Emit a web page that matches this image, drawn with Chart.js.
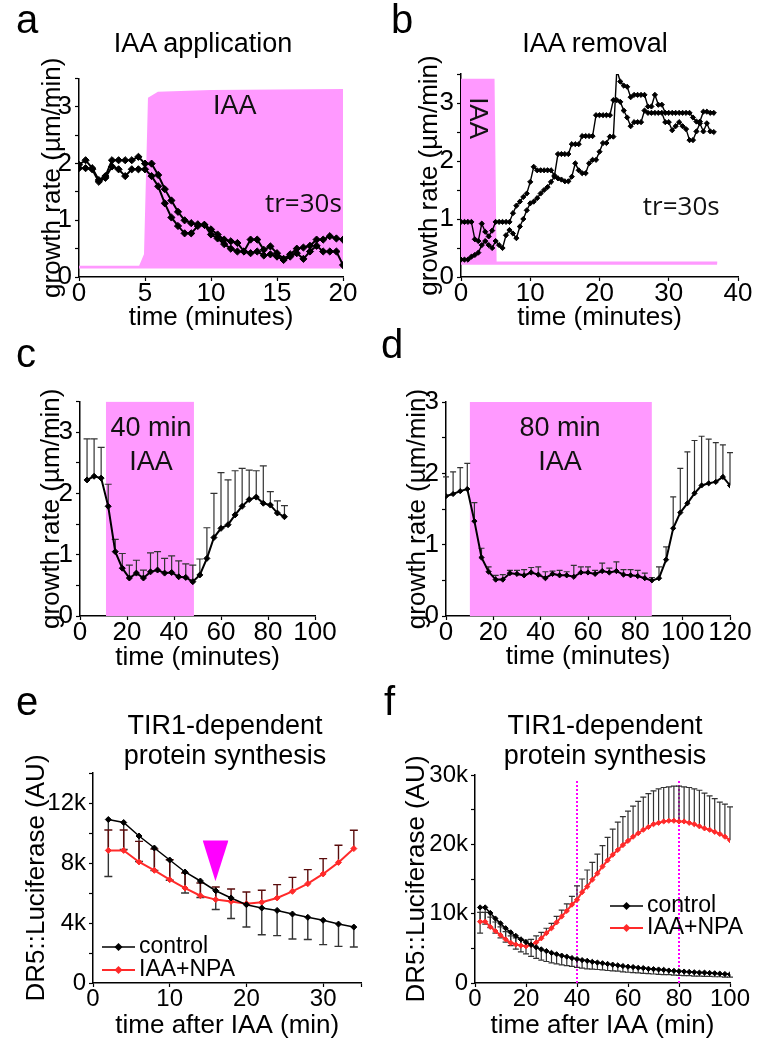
<!DOCTYPE html>
<html>
<head>
<meta charset="utf-8">
<script src="https://cdn.jsdelivr.net/npm/chart.js@4.4.1/dist/chart.umd.min.js"></script>
<style>
  body { margin: 0; background: #fff; }
  #page { position: relative; width: 761px; height: 1050px; overflow: hidden; font-family: "Liberation Sans", Arial, sans-serif; color: #000; }
  canvas { position: absolute; }
  .lbl { position: absolute; font-size: 40px; line-height: 40px; }
  .ttl { position: absolute; width: 300px; font-size: 27px; line-height: 27px; text-align: center; white-space: nowrap; }
</style>
</head>
<body>
<div id="page">
  <canvas id="pa" width="380" height="340" style="left:0;top:0"></canvas>
  <canvas id="pb" width="381" height="340" style="left:380px;top:0"></canvas>
  <canvas id="pc" width="380" height="340" style="left:0;top:340px"></canvas>
  <canvas id="pd" width="381" height="340" style="left:380px;top:340px"></canvas>
  <canvas id="pe" width="380" height="370" style="left:0;top:680px"></canvas>
  <canvas id="pf" width="381" height="370" style="left:380px;top:680px"></canvas>

  <div class="lbl" style="left:16px;top:-1px">a</div>
  <div class="lbl" style="left:391px;top:-1px">b</div>
  <div class="lbl" style="left:16px;top:333px">c</div>
  <div class="lbl" style="left:381px;top:324px">d</div>
  <div class="lbl" style="left:16px;top:681px">e</div>
  <div class="lbl" style="left:384px;top:681px">f</div>

  <div class="ttl" style="left:53px;top:30px">IAA application</div>
  <div class="ttl" style="left:445px;top:30px">IAA removal</div>
  <div class="ttl" style="left:75px;top:712px">TIR1-dependent</div>
  <div class="ttl" style="left:75px;top:742px">protein synthesis</div>
  <div class="ttl" style="left:455px;top:712px">TIR1-dependent</div>
  <div class="ttl" style="left:455px;top:742px">protein synthesis</div>
</div>
<script>
// panel a - IAA application, two roots sampled every 30 s
const aTime = [0,0.5,1,1.5,2,2.5,3,3.5,4,4.5,5,5.5,6,6.5,7,7.5,8,8.5,9,9.5,10,10.5,11,11.5,12,12.5,13,13.5,14,14.5,15,15.5,16,16.5,17,17.5,18,18.5,19,19.5,20];
const aRootA = [1.98,2.06,1.92,1.71,1.78,2.06,2.06,2.06,2.06,2.12, 2.0,2.0,1.8,1.55,1.35,1.15,1.0,0.95,0.93,0.92, 0.84,0.75,0.66,0.63,0.6,0.45,0.66,0.66,0.48,0.54, 0.42,0.32,0.4,0.5,0.52,0.55,0.66,0.66,0.72,0.68, 0.66];
const aRootB = [1.92,1.92,1.9,1.68,1.75,1.95,1.9,1.78,1.9,1.9, 1.9,1.78,1.6,1.3,1.05,0.9,0.77,0.77,0.9,0.92, 0.75,0.68,0.58,0.5,0.45,0.45,0.42,0.45,0.38,0.4, 0.36,0.3,0.36,0.42,0.32,0.45,0.55,0.45,0.45,0.45, 0.21];
const aIaaX = [0,4.6,5.0,5.3,6,10,20];
const aIaaY = [0.18,0.18,0.4,3.15,3.25,3.28,3.3];

// panel b - IAA removal
const bTime = [0,0.5,1,1.5,2,2.5,3,3.5,4,4.5,5,5.5,6,6.5,7,7.5,8,8.5,9,9.5,10,10.5,11,11.5,12,12.5,13,13.5,14,14.5,15,15.5,16,16.5,17,17.5,18,18.5,19,19.5,20,20.5,21,21.5,22,22.5,23,23.5,24,24.5,25,25.5,26,26.5,27,27.5,28,28.5,29,29.5,30,30.5,31,31.5,32,32.5,33,33.5,34,34.5,35,35.5,36,36.5];
const bRootA = [0.95,0.95,0.95,0.95,0.65,0.62,0.92,0.78,0.7,0.8,
  0.95,0.95,0.95,0.95,0.95,1.1,1.23,1.3,1.38,1.44,
  1.64,1.9,1.84,1.84,1.84,1.84,1.84,1.75,2.12,2.12,
  2.12,2.12,2.29,2.29,2.29,2.43,2.43,2.43,2.43,2.79,
  2.79,2.79,2.79,2.79,3.05,3.05,3.02,2.87,2.75,2.6,
  2.67,2.67,2.67,2.87,2.83,2.83,2.83,2.83,2.83,2.67,
  2.67,2.53,2.6,2.67,2.6,2.55,2.36,2.36,2.51,2.65,
  2.51,2.65,2.51,2.5];
const bRootB = [0.3,0.3,0.3,0.35,0.38,0.42,0.55,0.62,0.55,0.5,
  0.62,0.55,0.5,0.72,0.81,0.75,0.67,0.87,1.0,1.15,
  1.27,1.3,1.36,1.44,1.5,1.55,1.64,1.73,1.7,1.68,
  1.65,1.65,1.73,1.96,1.84,1.79,1.79,1.96,2.02,2.02,
  2.16,2.31,2.31,2.42,2.42,3.57,3.37,3.3,3.28,3.1,
  3.14,3.14,3.14,3.14,2.94,2.94,3.14,2.97,2.97,2.83,
  2.83,2.83,2.83,2.83,2.83,2.83,2.83,2.75,2.68,2.68,
  2.85,2.85,2.83,2.83];
const bIaaX = [0,4.7,5.0,37];
const bIaaY = [3.4,3.4,0.25,0.25];

// panel c - 40 min IAA pulse (mean + SD)
const cTime = [3,6,9,12,15,18,21,24,27,30,33,36,39,42,45,48,51,54,57,60,63,66,69,72,75,78,81,84,87];
const cRate = [2.22,2.28,2.25,1.79,1.05,0.78,0.62,0.7,0.62,0.72,0.75,0.7,0.71,0.64,0.63,0.56,0.67,0.94,1.28,1.43,1.49,1.65,1.79,1.9,1.94,1.84,1.81,1.68,1.62];
const cRateSdTop = [2.89,2.89,2.75,2.15,1.25,1.02,0.83,0.91,0.75,1.03,1.05,0.94,0.98,0.9,0.85,0.83,0.93,1.44,2.0,2.34,2.22,2.37,2.41,2.38,2.37,2.45,2.03,1.88,1.8];
const cIaaX = [11,48.5];
const cIaaY = [3.5,3.5];

// panel d - 80 min IAA pulse
const dTime = [0,3,6,9,12,15,18,21,24,27,30,33,36,39,42,45,48,51,54,57,60,63,66,69,72,75,78,81,84,87,90,93,96,99,102,105,108,111,114,117,120];
const dRate = [1.68,1.71,1.75,1.78,1.33,0.82,0.62,0.51,0.51,0.6, 0.59,0.57,0.61,0.58,0.53,0.59,0.57,0.57,0.55,0.61, 0.61,0.59,0.63,0.61,0.63,0.58,0.57,0.56,0.53,0.5, 0.53,0.79,1.23,1.45,1.58,1.72,1.83,1.86,1.88,1.95, 1.83];
const dRateSdTop = [1.95,2.02,2.08,2.14,1.59,0.95,0.69,0.57,0.58,0.64, 0.64,0.65,0.68,0.69,0.62,0.63,0.64,0.62,0.71,0.69, 0.69,0.64,0.74,0.67,0.76,0.65,0.65,0.64,0.6,0.54, 0.69,0.97,1.67,2.07,2.3,2.46,2.52,2.48,2.43,2.4, 2.29];
const dIaaX = [10,87];
const dIaaY = [3,3];

// panel e - DR5::Luciferase, thousands of AU
const eTime = [2,4,6,8,10,12,14,16,18,20,22,24,26,28,30,32,34];
const eControl = [10.9,10.7,9.8,9.0,8.2,7.4,6.8,6.15,5.67,5.22,5.0,4.84,4.6,4.38,4.18,3.93,3.73];
const eControlSdLow = [7.1,8.9,8.1,7.5,6.85,6.0,5.7,4.9,4.3,3.73,3.22,3.16,2.93,2.9,2.56,2.44,2.4];
const eNpa = [8.84,8.84,8.07,7.51,6.89,6.33,5.82,5.56,5.44,5.29,5.38,5.67,6.11,6.62,7.27,8.04,8.96];
const eNpaSdHigh = [10.2,10.2,9.44,8.93,8.22,7.33,6.67,6.4,6.27,6.07,6.18,6.56,7.04,7.56,8.29,9.18,10.18];
const eArrowX = [14.3,15.96,17.65];
const eArrowY = [9.5,6.78,9.5];

// panel f - longer time course
const fTime = [2,4,6,8,10,12,14,16,18,20,22,24,26,28,30,32,34,36,38,40,42,44,46,48,50,52,54,56,58,60,62,64,66,68,70,72,74,76,78,80,82,84,86,88,90,92,94,96,98,100];
const fControl = [10.9,10.9,10.1,9.3,8.6,7.9,7.3,6.8,6.3,5.9, 5.5,5.15,4.85,4.6,4.35,4.15,3.95,3.8,3.6,3.45, 3.3,3.2,3.05,2.95,2.85,2.75,2.65,2.55,2.45,2.35, 2.3,2.2,2.15,2.05,2.0,1.95,1.9,1.8,1.75,1.7, 1.65,1.6,1.55,1.5,1.5,1.45,1.4,1.35,1.3,1.25];
const fControlSdLow = [7.2,8.5,8.0,7.2,6.5,5.9,5.4,4.9,4.5,4.2, 3.85,3.55,3.3,3.1,2.9,2.75,2.6,2.5,2.4,2.25, 2.15,2.05,2.0,1.95,1.9,1.8,1.75,1.7,1.6,1.55, 1.5,1.45,1.4,1.35,1.3,1.25,1.2,1.2,1.15,1.1, 1.05,1.05,1.0,1.0,0.95,0.95,0.9,0.9,0.85,0.85];
const fNpa = [8.85,8.85,8.1,7.5,6.9,6.3,5.8,5.55,5.4,5.3, 5.5,5.85,6.45,7.2,7.9,8.75,9.6,10.4,11.3,12.0, 13.1,13.9,14.9,15.8,16.8,17.7,18.5,19.2,19.9,20.5, 21.1,21.6,22.1,22.5,22.9,23.1,23.3,23.4,23.4,23.3, 23.3,23.1,22.9,22.6,22.3,22.1,21.8,21.5,21.1,20.6];
const fNpaSdHigh = [10.2,10.2,9.5,8.8,8.1,7.4,6.8,6.5,6.3,6.2, 6.3,6.8,7.3,7.9,8.6,9.6,10.5,11.4,12.5,14.0, 15.0,16.3,17.4,18.6,19.8,21.0,22.2,23.2,24.0,24.8, 25.5,26.2,26.8,27.3,27.7,28.0,28.2,28.3,28.4,28.4, 28.3,28.2,28.0,27.8,27.4,27.0,26.6,26.1,25.8,25.4];
const fMarkX = [40,80];
const fMarkY = [0,29.3];

const FONT = '"Liberation Sans", Arial, sans-serif';
const PINK = '#ff99ff';
const RED = '#ff2a2a';

function pts(xs, ys) {
	return xs.map((x, i) => ({ x: x, y: ys[i] }));
}

function trace(xs, ys, color, r, w) {
	return {
		data: pts(xs, ys),
		borderColor: color,
		backgroundColor: color,
		borderWidth: w,
		pointStyle: "rectRot",
		pointRadius: r,
		pointBorderWidth: 1,
		pointBorderColor: color,
		pointBackgroundColor: color,
		tension: 0,
		fill: false,
		order: 0,
	};
}

function shade(xs, ys, color, fill, w, dash) {
	return {
		data: pts(xs, ys),
		borderColor: color,
		backgroundColor: color,
		borderWidth: w,
		borderDash: dash || [],
		pointRadius: 0,
		tension: 0,
		fill: fill,
		order: 5,
	};
}

// error bars, notes and the little legends
function extras(cfg) {
	return {
		id: "extras",
		beforeDatasetDraw(chart, args) {
			if (!cfg.errors || args.index !== cfg.errorsBefore) return;
			const ctx = chart.ctx;
			const xs = chart.scales.x;
			const ys = chart.scales.y;
			cfg.errors.forEach((e) => {
				ctx.save();
				ctx.strokeStyle = e.color;
				ctx.lineWidth = e.width;
				e.x.forEach((x, i) => {
					const px = xs.getPixelForValue(x);
					const p0 = ys.getPixelForValue(e.mean[i]);
					const p1 = ys.getPixelForValue(e.end[i]);
					ctx.beginPath();
					ctx.moveTo(px, p0);
					ctx.lineTo(px, p1);
					ctx.moveTo(px - e.cap, p1);
					ctx.lineTo(px + e.cap, p1);
					ctx.stroke();
				});
				ctx.restore();
			});
		},
		afterDatasetsDraw(chart) {
			const ctx = chart.ctx;
			const xs = chart.scales.x;
			const ys = chart.scales.y;
			(cfg.notes || []).forEach((n) => {
				ctx.save();
				ctx.font = n.font;
				ctx.fillStyle = "#111";
				ctx.textAlign = "center";
				ctx.textBaseline = "middle";
				ctx.translate(xs.getPixelForValue(n.x), ys.getPixelForValue(n.y));
				if (n.rot) ctx.rotate(n.rot);
				ctx.fillText(n.text, 0, 0);
				ctx.restore();
			});
			(cfg.legend || []).forEach((l) => {
				ctx.save();
				ctx.strokeStyle = l.color;
				ctx.fillStyle = l.color;
				ctx.lineWidth = l.width;
				ctx.beginPath();
				ctx.moveTo(l.x0, l.y);
				ctx.lineTo(l.x1, l.y);
				ctx.stroke();
				const mx = (l.x0 + l.x1) / 2;
				ctx.beginPath();
				ctx.moveTo(mx, l.y - 4);
				ctx.lineTo(mx + 4, l.y);
				ctx.lineTo(mx, l.y + 4);
				ctx.lineTo(mx - 4, l.y);
				ctx.closePath();
				ctx.fill();
				ctx.fillStyle = "#000";
				ctx.font = "23px " + FONT;
				ctx.textAlign = "left";
				ctx.textBaseline = "middle";
				ctx.fillText(l.text, l.x1 + 4, l.y);
				ctx.restore();
			});
		},
	};
}

function axes(o) {
	const tickFont = { family: FONT, size: o.tickSize, lineHeight: 1 };
	const titleFont = { family: FONT, size: 26, lineHeight: 1 };
	return {
		x: {
			type: "linear",
			min: o.xmin,
			max: o.xmax,
			offset: false,
			border: { color: "#000", width: 1.5 },
			grid: { drawOnChartArea: false, drawTicks: true, tickLength: 4, tickColor: "#000", tickWidth: 1.2, offset: false },
			ticks: { stepSize: o.xstep, autoSkip: false, maxRotation: 0, padding: 0, color: "#000", font: tickFont, callback: o.xlab },
			title: { display: true, text: o.xtitle, color: "#000", font: titleFont, padding: 0 },
			afterFit: (s) => {
				s.height = o.xh;
			},
		},
		y: {
			type: "linear",
			min: 0,
			max: o.ymax,
			border: { color: "#000", width: 1.5 },
			grid: { drawOnChartArea: false, drawTicks: true, tickLength: 4, tickColor: "#000", tickWidth: 1.2 },
			ticks: { stepSize: o.ystep, autoSkip: false, padding: 3, color: "#000", font: tickFont, callback: o.ylab },
			title: { display: true, text: o.ytitle, color: "#000", font: titleFont, padding: 0 },
			afterFit: (s) => {
				s.width = o.yw;
			},
		},
	};
}

function draw(id, datasets, o, cfg) {
	new Chart(document.getElementById(id), {
		type: "line",
		data: { datasets: datasets },
		options: {
			responsive: false,
			animation: false,
			devicePixelRatio: 1,
			layout: { padding: o.pad },
			plugins: { legend: { display: false }, tooltip: { enabled: false } },
			scales: axes(o),
		},
		plugins: [extras(cfg)],
	});
}

const intLabel = (v) => (Number.isInteger(v) ? String(v) : "");
const plain = (v) => String(v);
const kLabel = (step) => (v) => (v % step === 0 ? (v === 0 ? "0" : v + "k") : "");
const RATE = "growth rate (\u00b5m/min)";
const LUC = "DR5::Luciferase (AU)";

// a
draw("pa", [
	trace(aTime, aRootA, "#000", 3.6, 2),
	trace(aTime, aRootB, "#000", 3.6, 2),
	shade(aIaaX, aIaaY, PINK, { value: 0.15 }, 2),
], {
	xmin: 0, xmax: 20, xstep: 5, xlab: plain, xtitle: "time (minutes)", xh: 54,
	ymax: 3.5, ystep: 0.5, ylab: intLabel, ytitle: RATE, yw: 39.5, tickSize: 26,
	pad: { left: 39.5, top: 78.6, right: 37, bottom: 9 },
}, {
	notes: [
		{ x: 11.8, y: 3.0, text: "IAA", font: "27px " + FONT },
		{ x: 17.0, y: 1.27, text: "tr=30s", font: '26px "Open Sans", ' + FONT },
	],
});

// b
draw("pb", [
	trace(bTime, bRootA, "#000", 2.6, 1.4),
	trace(bTime, bRootB, "#000", 2.6, 1.4),
	shade(bIaaX, bIaaY, PINK, { value: 0.21 }, 2),
], {
	xmin: 0, xmax: 40, xstep: 10, xlab: plain, xtitle: "time (minutes)", xh: 54,
	ymax: 3.5, ystep: 0.5, ylab: intLabel, ytitle: RATE, yw: 44.5, tickSize: 26,
	pad: { left: 36.5, top: 74, right: 23, bottom: 9 },
}, {
	notes: [
		{ x: 2.3, y: 2.74, text: "IAA", font: "26px " + FONT, rot: Math.PI / 2 },
		{ x: 31.8, y: 1.19, text: "tr=30s", font: '26px "Open Sans", ' + FONT },
	],
});

// c
draw("pc", [
	trace(cTime, cRate, "#000", 3, 2),
	shade(cIaaX, cIaaY, PINK, "origin", 0),
], {
	xmin: 0, xmax: 100, xstep: 20, xlab: plain, xtitle: "time (minutes)", xh: 55,
	ymax: 3.5, ystep: 0.5, ylab: intLabel, ytitle: RATE, yw: 41, tickSize: 26,
	pad: { left: 39, top: 61.5, right: 65, bottom: 9 },
}, {
	errorsBefore: 0,
	errors: [{ x: cTime, mean: cRate, end: cRateSdTop, color: "#333", width: 1.2, cap: 3.5 }],
	notes: [
		{ x: 30.2, y: 3.06, text: "40 min", font: "27px " + FONT },
		{ x: 30.2, y: 2.5, text: "IAA", font: "27px " + FONT },
	],
});

// d
draw("pd", [
	trace(dTime, dRate, "#000", 2.6, 2),
	shade(dIaaX, dIaaY, PINK, "origin", 0),
], {
	xmin: 0, xmax: 120, xstep: 20, xlab: plain, xtitle: "time (minutes)", xh: 54,
	ymax: 3, ystep: 0.5, ylab: intLabel, ytitle: RATE, yw: 41.5, tickSize: 26,
	pad: { left: 24.5, top: 62, right: 31, bottom: 10 },
}, {
	errorsBefore: 0,
	errors: [{ x: dTime, mean: dRate, end: dRateSdTop, color: "#333", width: 1.2, cap: 3 }],
	notes: [
		{ x: 48.2, y: 2.63, text: "80 min", font: "27px " + FONT },
		{ x: 48.2, y: 2.15, text: "IAA", font: "27px " + FONT },
	],
});

// e
draw("pe", [
	trace(eTime, eControl, "#000", 3, 1.5),
	trace(eTime, eNpa, RED, 3, 2),
	shade(eArrowX, eArrowY, "#ff00ff", { value: 9.5 }, 0),
], {
	xmin: 0, xmax: 35, xstep: 10, xlab: (v) => (v % 10 === 0 ? String(v) : ""), xtitle: "time after IAA (min)", xh: 55.5,
	ymax: 14, ystep: 2, ylab: kLabel(4), ytitle: LUC, yw: 69, tickSize: 24,
	pad: { left: 24, top: 93, right: 18.5, bottom: 11.5 },
}, {
	errorsBefore: 1,
	errors: [
		{ x: eTime, mean: eControl, end: eControlSdLow, color: "#333", width: 1.4, cap: 4 },
		{ x: eTime, mean: eNpa, end: eNpaSdHigh, color: "#5a0c0c", width: 1.4, cap: 4 },
	],
	legend: [
		{ x0: 102, x1: 135, y: 267, color: "#000", width: 1.5, text: "control" },
		{ x0: 102, x1: 135, y: 290, color: RED, width: 2, text: "IAA+NPA" },
	],
});

// f
draw("pf", [
	trace(fTime, fControl, "#000", 2.6, 1.5),
	trace(fTime, fNpa, RED, 2.6, 2),
	shade([fMarkX[0], fMarkX[0]], fMarkY, "#ff00ff", false, 2, [2, 2]),
	shade([fMarkX[1], fMarkX[1]], fMarkY, "#ff00ff", false, 2, [2, 2]),
], {
	xmin: 0, xmax: 100, xstep: 20, xlab: plain, xtitle: "time after IAA (min)", xh: 55.5,
	ymax: 30, ystep: 5, ylab: kLabel(10), ytitle: LUC, yw: 71, tickSize: 24,
	pad: { left: 24, top: 95, right: 31, bottom: 11.5 },
}, {
	errorsBefore: 1,
	errors: [
		{ x: fTime, mean: fControl, end: fControlSdLow, color: "#333", width: 1.2, cap: 3 },
		{ x: fTime, mean: fNpa, end: fNpaSdHigh, color: "#333", width: 1.2, cap: 3 },
	],
	legend: [
		{ x0: 230, x1: 263, y: 226, color: "#000", width: 1.5, text: "control" },
		{ x0: 230, x1: 263, y: 248, color: RED, width: 2, text: "IAA+NPA" },
	],
});
</script>
</body>
</html>
